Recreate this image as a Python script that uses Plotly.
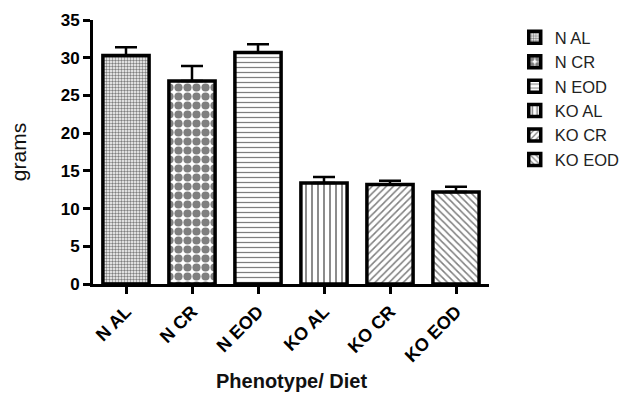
import plotly.graph_objects as go

categories = ["N AL", "N CR", "N EOD", "KO AL", "KO CR", "KO EOD"]
means = [30.3, 26.9, 30.7, 13.4, 13.2, 12.2]
errors = [1.1, 2.0, 1.1, 0.8, 0.5, 0.7]
patterns = [".", ".", "-", "|", "/", "\\"]
pattern_sizes = [3, 9, 5, 6, 5, 5]
pattern_solid = [0.5, 0.65, 0.25, 0.3, 0.3, 0.3]
y_ticks = [0, 5, 10, 15, 20, 25, 30, 35]

FONT = "Liberation Sans, Arial, sans-serif"

fig = go.Figure()
for i, cat in enumerate(categories):
    fig.add_trace(go.Bar(
        x=[cat], y=[means[i]], name=cat, width=0.7,
        marker=dict(color="white", line=dict(color="black", width=3.5),
                    pattern=dict(shape=patterns[i], size=pattern_sizes[i],
                                 solidity=pattern_solid[i], fgcolor="black",
                                 bgcolor="white", fillmode="overlay")),
        error_y=dict(type="data", symmetric=False, array=[errors[i]],
                     arrayminus=[0], color="black", thickness=2.5, width=11),
    ))

# page body has an 8px margin, so the figure is 8px smaller and margins shifted
fig.update_layout(
    width=632, height=386,
    margin=dict(l=85, r=151, t=12, b=110, autoexpand=False),
    plot_bgcolor="white", paper_bgcolor="white",
    barmode="overlay",
    font=dict(family=FONT, color="black"),
    showlegend=True,
    legend=dict(x=1.065, y=1.0, xanchor="left", yanchor="top",
                font=dict(size=16.5, color="#222"), tracegroupgap=0,
                itemwidth=30, bgcolor="rgba(0,0,0,0)"),
    xaxis=dict(range=[-0.5, 5.5], showline=True, linecolor="black", linewidth=3,
               ticks="outside", ticklen=7, tickwidth=2.5, tickcolor="black",
               tickangle=-45, tickfont=dict(size=18, weight="bold"),
               automargin=False, showgrid=False, zeroline=False),
    yaxis=dict(range=[0, 35], tickvals=y_ticks, showline=True, linecolor="black", linewidth=3,
               ticks="outside", ticklen=7, tickwidth=2.5, tickcolor="black",
               tickfont=dict(size=17, weight="bold"),
               automargin=False, showgrid=False, zeroline=False),
    annotations=[
        dict(text="<b>Phenotype/ Diet</b>", xref="paper", yref="paper",
             x=0.5, y=-0.368, xanchor="center", yanchor="middle",
             showarrow=False, font=dict(size=20, color="#111")),
        dict(text="grams", xref="paper", yref="paper",
             x=-0.189, y=0.5, xanchor="center", yanchor="middle", textangle=-90,
             showarrow=False, font=dict(size=21, color="#111")),
    ],
)

fig.write_html("out.html")
